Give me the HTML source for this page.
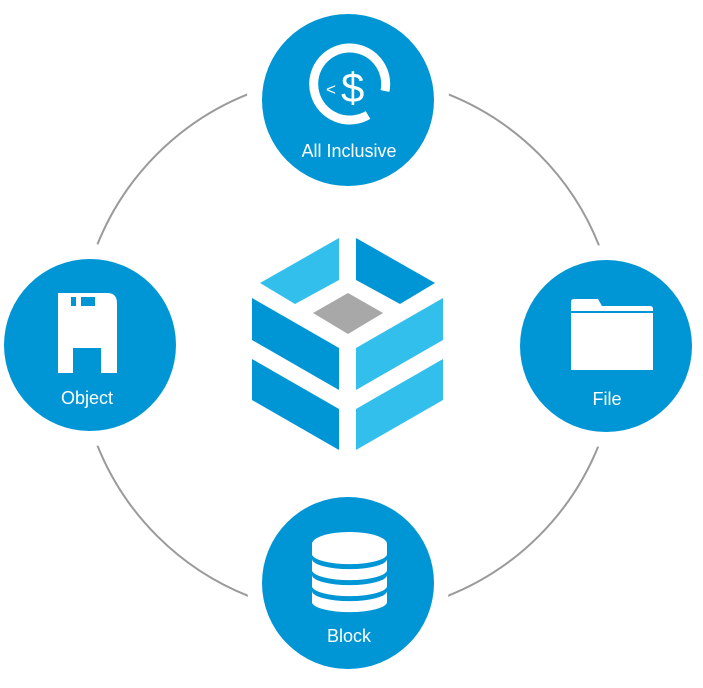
<!DOCTYPE html>
<html><head><style>
html,body{margin:0;padding:0;background:#fff;}
svg{display:block;}
text{font-family:"Liberation Sans",sans-serif;fill:#fff;}
</style></head><body>
<svg width="703" height="688" viewBox="0 0 703 688">
<circle cx="348" cy="345" r="270" fill="none" stroke="#9a9a9a" stroke-width="2"/>
<g fill="#fff">
<circle cx="348" cy="100" r="101"/>
<circle cx="90" cy="345" r="101"/>
<circle cx="606" cy="346" r="101"/>
<circle cx="348" cy="583" r="101"/>
</g>
<g fill="#0096d6">
<circle cx="348" cy="100" r="86"/>
<circle cx="90" cy="345" r="86"/>
<circle cx="606" cy="346" r="86"/>
<circle cx="348" cy="583" r="86"/>
</g>
<!-- cube -->
<polygon points="260,283 339,238 339,280 295,304" fill="#33bfec"/>
<polygon points="356,238 435,283 400,304 356,280" fill="#0096d6"/>
<polygon points="313,313 348,293 383,313 348,334" fill="#a8a8a8"/>
<polygon points="252,298 339,348 339,390 252,340" fill="#0096d6"/>
<polygon points="356,348 443,298 443,340 356,390" fill="#33bfec"/>
<polygon points="252,359 339,409 339,450 252,400" fill="#0096d6"/>
<polygon points="356,409 443,359 443,400 356,450" fill="#33bfec"/>
<!-- All inclusive icon -->
<path d="M 385 91 A 36 36 0 1 0 368 115" fill="none" stroke="#fff" stroke-width="9"/>
<text x="326" y="95" font-size="17">&lt;</text>
<text x="341" y="102" font-size="42">$</text>
<text x="349" y="157" font-size="18" text-anchor="middle">All Inclusive</text>
<!-- Object icon -->
<path d="M58 293 H107 Q117 293 117 303 V373 H101 V348 H73 V373 H58 Z" fill="#fff"/>
<rect x="71" y="297" width="5" height="9" fill="#0096d6"/>
<rect x="81" y="297" width="14" height="9" fill="#0096d6"/>
<text x="87" y="404" font-size="18" text-anchor="middle">Object</text>
<!-- File icon -->
<path d="M571 308 V302 Q571 299 574 299 H598 L602 306 H650 Q653 306 653 309 V370 H571 Z" fill="#fff"/>
<line x1="571" y1="312" x2="653" y2="312" stroke="#0096d6" stroke-width="2"/>
<text x="607" y="405" font-size="18" text-anchor="middle">File</text>
<!-- Block icon -->
<g fill="#fff">
<path d="M312 591 V602 A37 10 0 0 0 387 602 V591 A37 10 0 0 1 312 591 Z"/>
<path d="M312 575 V586 A37 10 0 0 0 387 586 V575 A37 10 0 0 1 312 575 Z"/>
<path d="M312 559 V570 A37 10 0 0 0 387 570 V559 A37 10 0 0 1 312 559 Z"/>
<path d="M312 545 V554 A37 10 0 0 0 387 554 V545 Z"/>
<ellipse cx="349.5" cy="544" rx="37.5" ry="12"/>
</g>
<text x="349" y="642" font-size="18" text-anchor="middle">Block</text>
</svg>
</body></html>
